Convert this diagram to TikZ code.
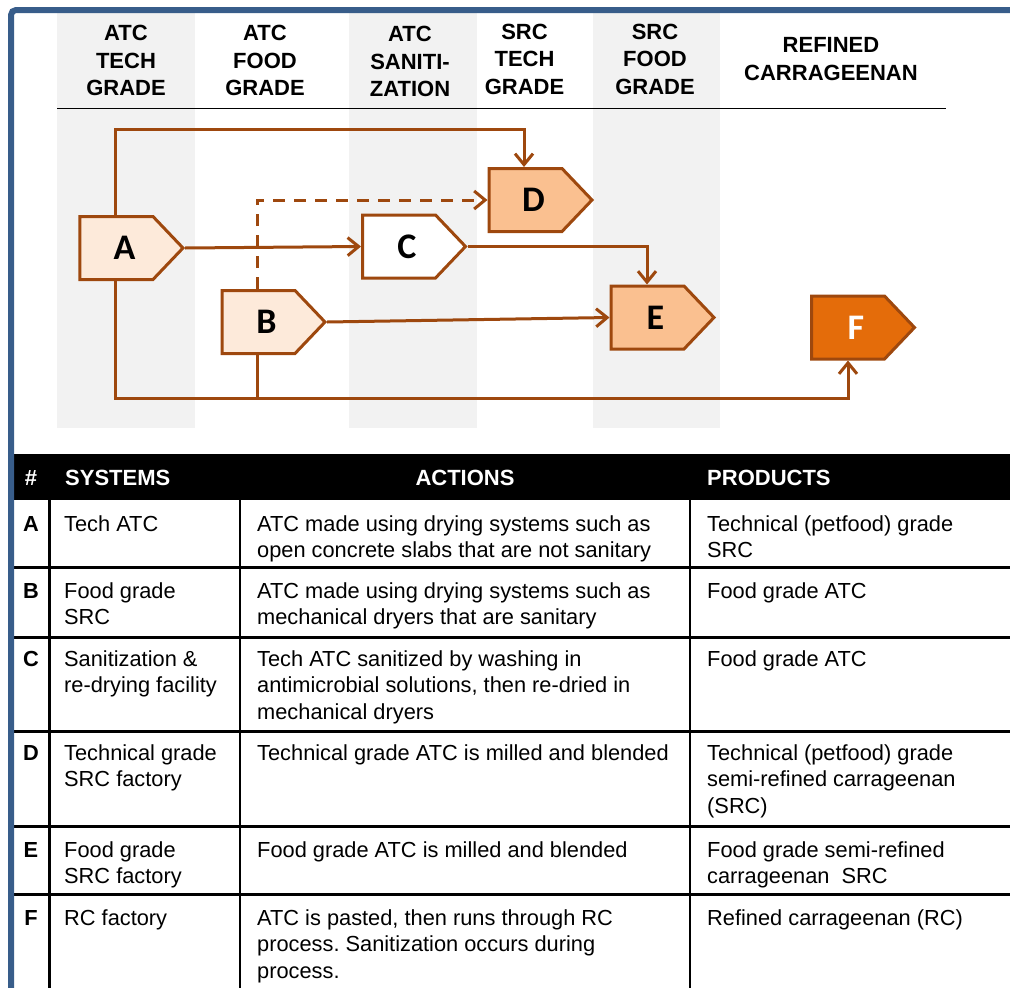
\documentclass[tikz,border=0pt]{standalone}
\usepackage{fontspec}
\setmainfont{Liberation Sans}
\newfontfamily\carl{Carlito}
\usetikzlibrary{shapes.symbols,arrows.meta,calc}
\definecolor{brn}{RGB}{158,72,14}
\definecolor{lpeach}{RGB}{253,234,218}
\definecolor{peach}{RGB}{250,192,144}
\definecolor{org}{RGB}{228,108,10}
\definecolor{colgray}{RGB}{242,242,242}
\definecolor{bordblue}{RGB}{56,93,138}
\frenchspacing
\begin{document}
\begin{tikzpicture}[x=1pt,y=-1pt,
  sig/.style={signal, signal to=east, signal from=nowhere, signal pointer angle=92.8,
    minimum width=103pt, minimum height=63pt, draw=brn, line width=3pt, inner sep=0pt,
    font=\carl\bfseries\fontsize{36}{40}\selectfont},
  conn/.style={draw=brn, line width=3pt, -{Straight Barb[length=11pt,width=18pt]}},
  plainconn/.style={draw=brn, line width=3pt},
  dashline/.style={dash pattern=on 12pt off 9pt},
  colhead/.style={anchor=north, inner sep=0pt, align=center,
    font=\bfseries\fontsize{22}{27.5}\selectfont},
  thead/.style={inner sep=0pt, text=white, font=\bfseries\fontsize{22}{26}\selectfont},
  cell/.style={anchor=north west, inner sep=0pt, align=left,
    font=\fontsize{21.8}{26.5}\selectfont},
  hash/.style={anchor=base, inner sep=0pt, font=\bfseries\fontsize{21.8}{26.5}\selectfont},
  tline/.style={line width=3pt, black},
  vline/.style={line width=2.5pt, black}
]
\useasboundingbox (0,0) rectangle (1010,988);
% grey column bands
\fill[colgray] (57,13) rectangle (195,428);
\fill[colgray] (349,13) rectangle (477,428);
\fill[colgray] (593,13) rectangle (720,428);
% column headings
\node[colhead] (h1) at (126,40.5-19.25) {\strut ATC\\TECH\\GRADE};
\node[colhead] (h2) at (265,40.5-19.25) {\strut ATC\\FOOD\\GRADE};
\node[colhead] (h3) at (410,41.5-19.25) {\strut ATC\\SANITI-\\ZATION};
\node[colhead] (h4) at (524.5,39-19.25) {\strut SRC\\TECH\\GRADE};
\node[colhead] (h5) at (655,39-19.25) {\strut SRC\\FOOD\\GRADE};
\node[colhead] (h6) at (831,52.5-19.25) {\strut REFINED\\CARRAGEENAN};
\draw[line width=1.5pt, black] (57,108.3) -- (946,108.3);
% process shapes
\node[sig, fill=lpeach] (A) at (116.5,248) {\hspace*{16pt}A};
\node[sig, fill=lpeach] (B) at (258.5,322) {\hspace*{16pt}B};
\node[sig, fill=white] (C) at (399,246.5) {\hspace*{16pt}C};
\node[sig, fill=peach] (D) at (525.5,200) {\hspace*{16pt}D};
\node[sig, fill=peach] (E) at (647.5,317.5) {\hspace*{16pt}E};
\node[sig, fill=org, text=white] (F) at (848,327.5) {\hspace*{16pt}F};
% helper coordinates
\coordinate (top) at (0,129);
\coordinate (bot) at (0,398);
\coordinate (An) at ([xshift=-1.5pt]A.north);
\coordinate (As) at ([xshift=-1.5pt]A.south);
\coordinate (Bn) at ([xshift=-1.5pt]B.north);
\coordinate (Bs) at ([xshift=-1.5pt]B.south);
\coordinate (Dn) at ([xshift=-1.5pt]D.north);
\coordinate (En) at ([xshift=-0.5pt]E.north);
\coordinate (Fs) at (F.south);
% connectors
\draw[conn] (An) -- (An |- top) -| (Dn);
\draw[conn] (A.east) -- (C.west);
\draw[conn, dashline] (Bn) |- (D.west);
\draw[conn] (C.east) -| (En);
\draw[conn] (B.east) -- (E.west);
\draw[conn] (As) -- (As |- bot) -| (Fs);
\draw[plainconn] (Bs) -- (Bs |- bot);
% table header
\fill[black] (14,454) rectangle (1010,500);
\node[thead, anchor=base] (th0) at (31,485.5) {\#};
\node[thead, anchor=base west] (th1) at (65,485.5) {SYSTEMS};
\node[thead, anchor=base] (th2) at (465,485.5) {ACTIONS};
\node[thead, anchor=base west] (th3) at (707,485.5) {PRODUCTS};
% table lines
\draw[tline] (14,567) -- (1010,567);
\draw[tline] (14,637.5) -- (1010,637.5);
\draw[tline] (14,731) -- (1010,731);
\draw[tline] (14,826) -- (1010,826);
\draw[tline] (14,894) -- (1010,894);
\draw[vline] (49.5,500) -- (49.5,988);
\draw[vline] (240,500) -- (240,988);
\draw[vline] (690,500) -- (690,988);
% row A
\node[hash] (rA) at (31,531) {A};
\node[cell] (sA) at (64,531-18.55) {\strut Tech ATC};
\node[cell] (aA) at (257,531-18.55) {\strut ATC made using drying systems such as\\open concrete slabs that are not sanitary};
\node[cell] (pA) at (707,531-18.55) {\strut Technical (petfood) grade\\SRC};
% row B
\node[hash] (rB) at (31,598) {B};
\node[cell] (sB) at (64,598-18.55) {\strut Food grade\\SRC};
\node[cell] (aB) at (257,598-18.55) {\strut ATC made using drying systems such as\\mechanical dryers that are sanitary};
\node[cell] (pB) at (707,598-18.55) {\strut Food grade ATC};
% row C
\node[hash] (rC) at (31,666) {C};
\node[cell] (sC) at (64,666-18.55) {\strut Sanitization \&\\re-drying facility};
\node[cell] (aC) at (257,666-18.55) {\strut Tech ATC sanitized by washing in\\antimicrobial solutions, then re-dried in\\mechanical dryers};
\node[cell] (pC) at (707,666-18.55) {\strut Food grade ATC};
% row D
\node[hash] (rD) at (31,760) {D};
\node[cell] (sD) at (64,760-18.55) {\strut Technical grade\\SRC factory};
\node[cell] (aD) at (257,760-18.55) {\strut Technical grade ATC is milled and blended};
\node[cell] (pD) at (707,760-18.55) {\strut Technical (petfood) grade\\semi-refined carrageenan\\(SRC)};
% row E
\node[hash] (rE) at (31,857) {E};
\node[cell] (sE) at (64,857-18.55) {\strut Food grade\\SRC factory};
\node[cell] (aE) at (257,857-18.55) {\strut Food grade ATC is milled and blended};
\node[cell] (pE) at (707,857-18.55) {\strut Food grade semi-refined\\carrageenan\ \ SRC};
% row F
\node[hash] (rF) at (31,925) {F};
\node[cell] (sF) at (64,925-18.55) {\strut RC factory};
\node[cell] (aF) at (257,925-18.55) {\strut ATC is pasted, then runs through RC\\process. Sanitization occurs during\\process.};
\node[cell] (pF) at (707,925-18.55) {\strut Refined carrageenan (RC)};
% blue frame
\draw[bordblue, line width=6pt, rounded corners=5pt] (11,995) -- (11,10) -- (1015,10);
\end{tikzpicture}
\end{document}
